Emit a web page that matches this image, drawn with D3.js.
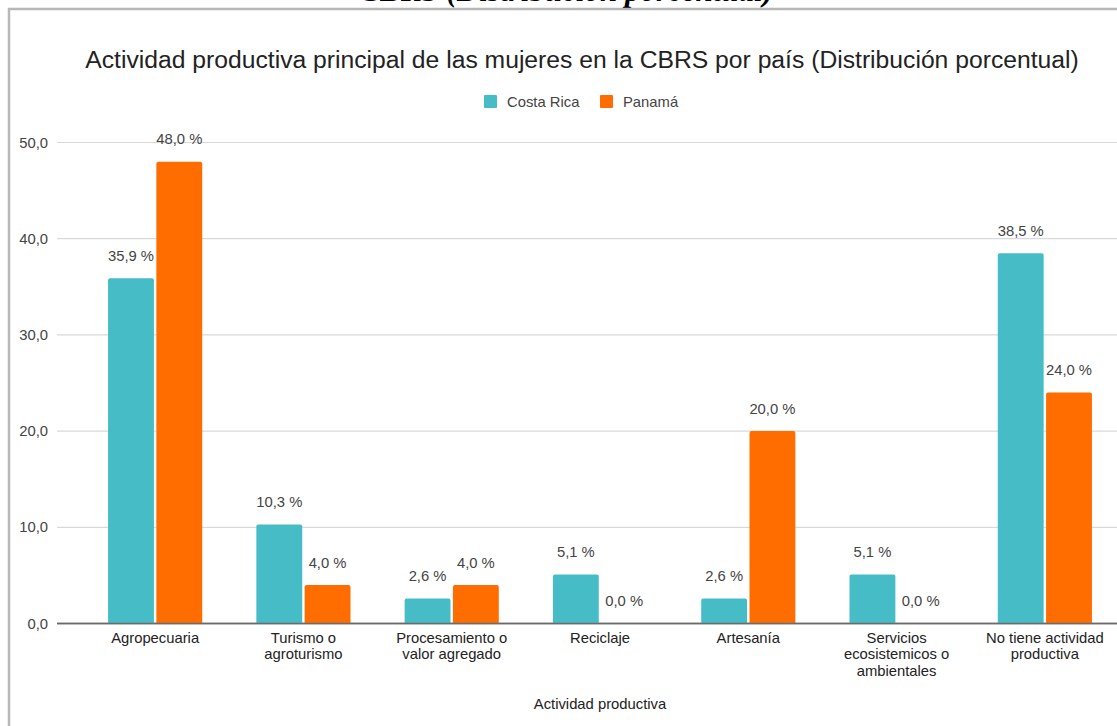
<!DOCTYPE html>
<html><head><meta charset="utf-8">
<script src="https://cdn.jsdelivr.net/npm/d3@7"></script>
<style>
html,body{margin:0;padding:0;background:#fff;}
svg{display:block;font-family:"Liberation Sans",Arial,sans-serif;}
</style></head>
<body>
<svg id="c" width="1117" height="726"></svg>
<script>
const categories = [
  ["Agropecuaria"],
  ["Turismo o","agroturismo"],
  ["Procesamiento o","valor agregado"],
  ["Reciclaje"],
  ["Artesanía"],
  ["Servicios","ecosistemicos o","ambientales"],
  ["No tiene actividad","productiva"]
];
const seriesNames = ["Costa Rica","Panamá"];
const costaRica = [35.9, 10.3, 2.6, 5.1, 2.6, 5.1, 38.5];
const panama = [48.0, 4.0, 4.0, 0.0, 20.0, 0.0, 24.0];
const yTicks = [0,10,20,30,40,50];
const colors = ["#46bdc6","#ff6d01"];
const chartTitle = "Actividad productiva principal de las mujeres en la CBRS por país (Distribución porcentual)";
const xTitle = "Actividad productiva";
const topCaption = "CBRS (Distribución porcentual)";

const svg = d3.select("#c");
const fmt = v => v.toFixed(1).replace(".", ",");
const FS = 14.8;

// cropped caption above the frame (only its lower edge is visible, as in the source)
svg.append("text").attr("x",773).attr("y",1).attr("text-anchor","end")
  .attr("font-family","'Liberation Serif','Times New Roman',serif")
  .attr("font-weight","bold").attr("font-style","italic").attr("font-size",31)
  .attr("fill","#000").text(topCaption);

// frame
svg.append("rect").attr("x",9).attr("y",9).attr("width",1130).attr("height",740)
  .attr("fill","#fff").attr("stroke","#b8b8b8").attr("stroke-width",2.5);

// title
svg.append("text").attr("x",582).attr("y",68).attr("text-anchor","middle")
  .attr("font-size",24.7).attr("fill","#222").text(chartTitle);

// legend
const legX = [484, 600];
seriesNames.forEach((n,i)=>{
  svg.append("rect").attr("x",legX[i]).attr("y",95).attr("width",13).attr("height",13)
    .attr("rx",1).attr("fill",colors[i]);
  svg.append("text").attr("x",legX[i]+23).attr("y",106.5).attr("font-size",FS)
    .attr("fill","#444").text(n);
});

const y = d3.scaleLinear().domain([0,50]).range([623.5,142.5]);
const x = d3.scaleBand().domain(d3.range(categories.length)).range([81,1119]).paddingInner(0.365).paddingOuter(0.1825);
const xs = d3.scaleBand().domain([0,1]).range([0,x.bandwidth()]).paddingInner(0.05);

// gridlines
const g = svg.append("g");
yTicks.forEach(t=>{
  g.append("line").attr("x1",57).attr("x2",1117).attr("y1",y(t)).attr("y2",y(t))
    .attr("stroke", t===0 ? "#6b6b6b" : "#d9d9d9").attr("stroke-width", t===0?1.6:1.2);
  g.append("text").attr("x",48).attr("y",y(t)+5).attr("text-anchor","end")
    .attr("font-size",FS).attr("fill","#444").text(fmt(t));
});

const series = [costaRica, panama];
const bars = svg.append("g");
series.forEach((vals,si)=>{
  vals.forEach((v,ci)=>{
    const bx = x(ci)+xs(si), bw = xs.bandwidth();
    if(v>0){
      const top = y(v), h = y(0)-y(v);
      const r = Math.min(2,h);
      bars.append("path").attr("fill",colors[si])
        .attr("d",`M${bx},${y(0)} V${top+r} Q${bx},${top} ${bx+r},${top} H${bx+bw-r} Q${bx+bw},${top} ${bx+bw},${top+r} V${y(0)} Z`);
    }
    bars.append("text").attr("x",bx+bw/2).attr("y",y(v)-17.5).attr("text-anchor","middle")
      .attr("font-size",FS).attr("fill","#444").text(fmt(v)+" %");
  });
});
// redraw baseline over bars
svg.append("line").attr("x1",57).attr("x2",1117).attr("y1",y(0)).attr("y2",y(0))
  .attr("stroke","#6b6b6b").attr("stroke-width",1.6);

// x labels
categories.forEach((lines,ci)=>{
  const t = svg.append("text").attr("text-anchor","middle").attr("font-size",FS).attr("fill","#222");
  lines.forEach((l,li)=>{
    t.append("tspan").attr("x",x(ci)+x.bandwidth()/2).attr("y",642.5+li*16.5).text(l);
  });
});

svg.append("text").attr("x",600).attr("y",709).attr("text-anchor","middle")
  .attr("font-size",FS).attr("fill","#222").text(xTitle);
</script>
</body></html>
